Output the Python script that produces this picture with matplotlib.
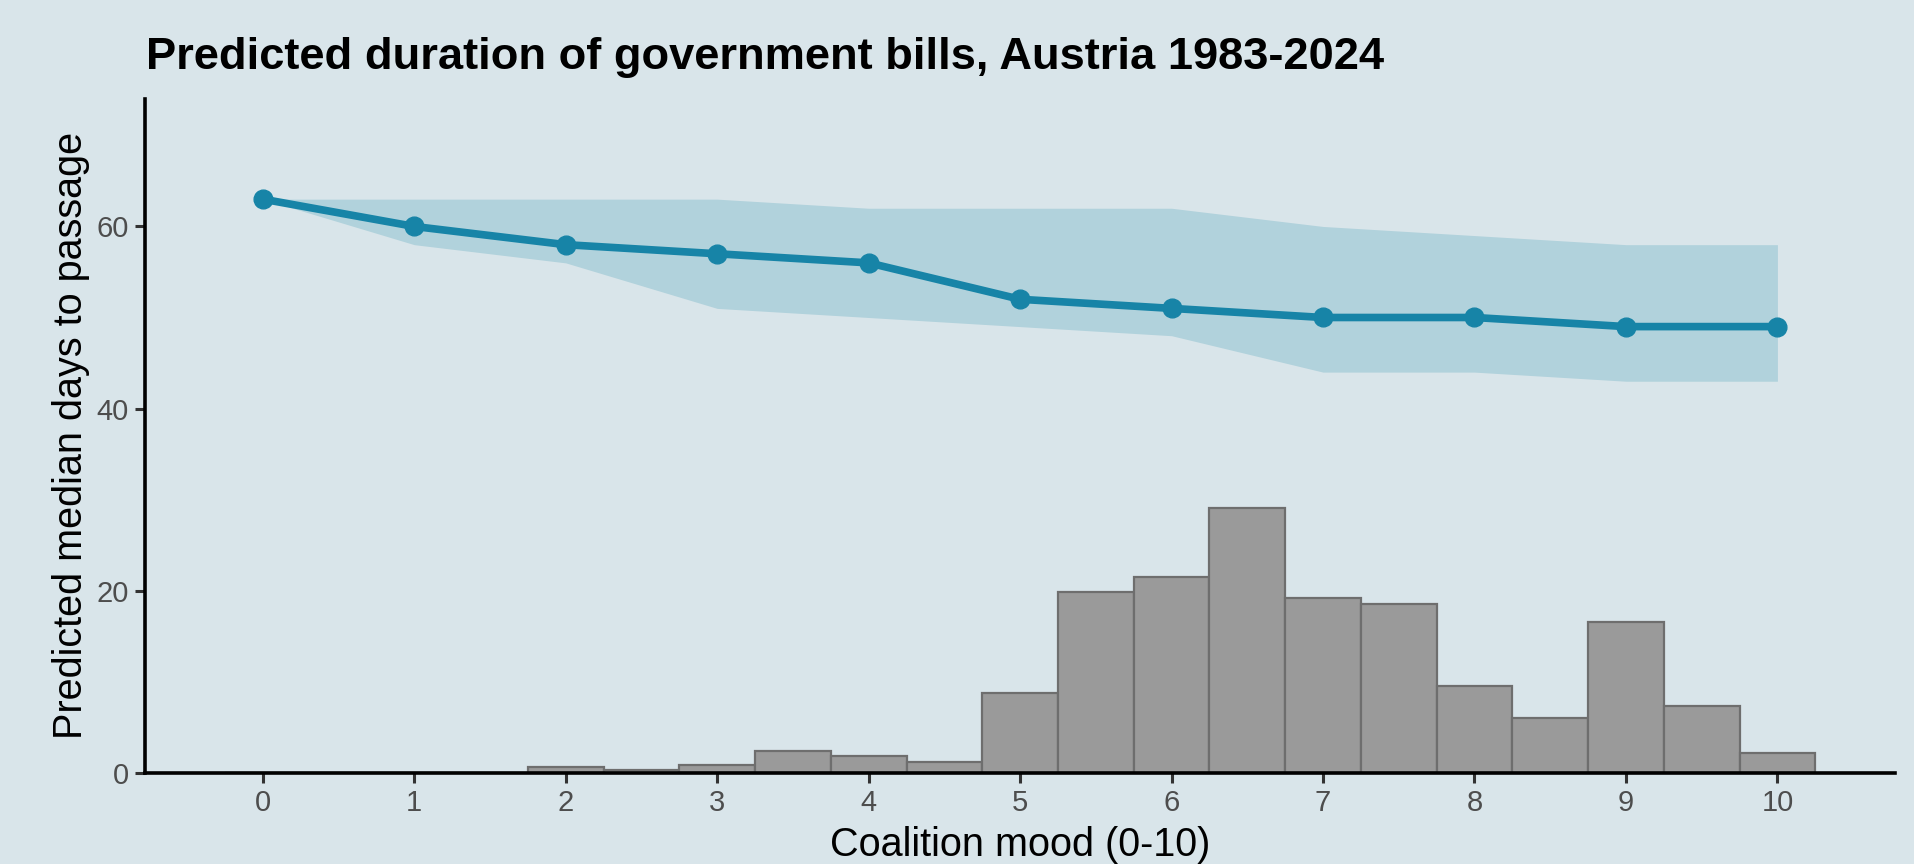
import matplotlib
matplotlib.use("Agg")
import matplotlib.pyplot as plt
import numpy as np

# ---- data ----
mood = [0, 1, 2, 3, 4, 5, 6, 7, 8, 9, 10]
pred_days = [63, 60, 58, 57, 56, 52, 51, 50, 50, 49, 49]
ci_upper = [63, 63, 63, 63, 62, 62, 62, 60, 59, 58, 58]
ci_lower = [63, 58, 56, 51, 50, 49, 48, 44, 44, 43, 43]

hist_centers = [0, 0.5, 1, 1.5, 2, 2.5, 3, 3.5, 4, 4.5, 5, 5.5, 6, 6.5,
                7, 7.5, 8, 8.5, 9, 9.5, 10]
hist_heights = [0, 0, 0, 0, 0.6, 0.3, 0.9, 2.4, 1.8, 1.2, 8.8, 19.8, 21.5,
                29.1, 19.2, 18.5, 9.5, 6.0, 16.6, 7.3, 2.2]
bin_width = 0.5

x_ticks = [0, 1, 2, 3, 4, 5, 6, 7, 8, 9, 10]
y_ticks = [0, 20, 40, 60]

title = "Predicted duration of government bills, Austria 1983-2024"
xlabel = "Coalition mood (0-10)"
ylabel = "Predicted median days to passage"

# ---- style ----
BG = "#d9e5ea"
LINE = "#1784a7"
RIBBON = "#b1d2dc"
BAR = "#9a9a9a"
BAR_EDGE = "#6e6e6e"

plt.rcParams["font.family"] = ["Liberation Sans", "DejaVu Sans"]

W, H = 1915, 864
fig = plt.figure(figsize=(W / 100, H / 100), dpi=100, facecolor=BG)
ax = fig.add_axes([145.4 / W, 1 - 772.7 / H, (1894.8 - 145.4) / W, (772.7 - 99) / H])
ax.set_facecolor(BG)

ax.fill_between(mood, ci_lower, ci_upper, color=RIBBON, lw=0, zorder=1)
ax.bar(hist_centers, hist_heights, width=bin_width, color=BAR,
       edgecolor=BAR_EDGE, linewidth=1.6, zorder=2)
ax.plot(mood, pred_days, color=LINE, lw=5.5, zorder=3, solid_capstyle="round")
ax.plot(mood, pred_days, "o", color=LINE, ms=13.5, zorder=4)

ax.set_xlim(-0.775, 10.775)
ax.set_ylim(0, 74)
ax.set_xticks(x_ticks)
ax.set_yticks(y_ticks)
ax.set_xticklabels([str(t) for t in x_ticks])
ax.set_yticklabels([str(t) for t in y_ticks])

for s in ["top", "right"]:
    ax.spines[s].set_visible(False)
for s in ["left", "bottom"]:
    ax.spines[s].set_linewidth(2.6)
    ax.spines[s].set_color("black")
    ax.spines[s].set_zorder(5)

ax.tick_params(axis="both", length=7, width=2.2, color="#333333",
               labelsize=21, labelcolor="#4d4d4d", pad=5)

fig.text(146 / W, 1 - 69 / H, title, fontsize=32.6, fontweight="bold",
         ha="left", va="baseline", color="black")
fig.text(1020 / W, 1 - 856 / H, xlabel, fontsize=28.5, ha="center",
         va="baseline", color="black")
fig.text(81.7 / W, 1 - 435 / H, ylabel, fontsize=28.5, rotation=90,
         rotation_mode="anchor", ha="center", va="baseline", color="black")

fig.savefig("out.png", dpi=100, facecolor=BG)
